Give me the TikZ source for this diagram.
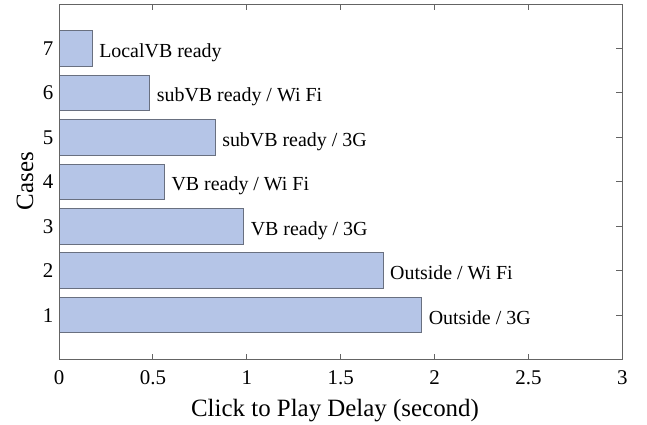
\documentclass[tikz,border=0pt]{standalone}
\usepackage{fontspec}
\setmainfont{Liberation Serif}
\definecolor{barfill}{RGB}{181,197,231}
\definecolor{baredge}{RGB}{105,112,128}
\definecolor{axisgray}{RGB}{100,100,100}
\tikzset{
  hbar/.style={draw=baredge, fill=barfill, line width=0.9bp},
  barlabel/.style={anchor=base west, inner sep=0pt, xshift=7bp, yshift=-9bp,
    font=\fontsize{20}{24}\selectfont},
  xticklabel/.style={anchor=base, inner sep=0pt, yshift=-24.5bp,
    font=\fontsize{21}{25}\selectfont},
  yticklabel/.style={anchor=base east, inner sep=0pt, xshift=-5.5bp, yshift=-7bp,
    font=\fontsize{21}{25}\selectfont},
  axislabel/.style={inner sep=0pt, font=\fontsize{25}{30}\selectfont},
  axisline/.style={draw=axisgray, line width=0.9bp},
}
\begin{document}
\begin{tikzpicture}[x=1bp,y=-1bp]
\useasboundingbox (0,0) rectangle (647,424);
% axis titles (pixel coordinates)
\node[axislabel, anchor=base] (xlab) at (335,416) {Click to Play Delay (second)};
\node[axislabel, rotate=90] (ylab) at (25,181) {Cases};
% data area: x in seconds, y in case number
\begin{scope}[shift={(59,359.6)}, x=187.8bp, y=44.45bp]
  % bars
  \draw[hbar] (0,0.6) rectangle (1.931,1.4);
  \draw[hbar] (0,1.6) rectangle (1.725,2.4);
  \draw[hbar] (0,2.6) rectangle (0.983,3.4);
  \draw[hbar] (0,3.6) rectangle (0.561,4.4);
  \draw[hbar] (0,4.6) rectangle (0.831,5.4);
  \draw[hbar] (0,5.6) rectangle (0.483,6.4);
  \draw[hbar] (0,6.6) rectangle (0.176,7.4);
  % bar labels
  \node[barlabel] (c1) at (1.931,1) {Outside / 3G};
  \node[barlabel] (c2) at (1.725,2) {Outside / Wi Fi};
  \node[barlabel] (c3) at (0.983,3) {VB ready / 3G};
  \node[barlabel] (c4) at (0.561,4) {VB ready / Wi Fi};
  \node[barlabel] (c5) at (0.831,5) {subVB ready / 3G};
  \node[barlabel] (c6) at (0.483,6) {subVB ready / Wi Fi};
  \node[barlabel] (c7) at (0.176,7) {LocalVB ready};
  % axes box
  \draw[axisline] (0,0) rectangle (3,8);
  % ticks on top, bottom and right
  \foreach \v in {0.5,1,1.5,2,2.5} {
    \draw[axisline] (\v,0) -- ++(0,6bp);
    \draw[axisline] (\v,8) -- ++(0,-6bp);
  }
  \foreach \c in {1,...,7} {
    \draw[axisline] (3,\c) -- ++(-6bp,0);
    \node[yticklabel] (yt\c) at (0,\c) {\c};
  }
  \foreach \v [count=\i] in {0,0.5,1,1.5,2,2.5,3} {
    \node[xticklabel] (xt\i) at (\v,0) {\v};
  }
\end{scope}
\end{tikzpicture}
\end{document}
